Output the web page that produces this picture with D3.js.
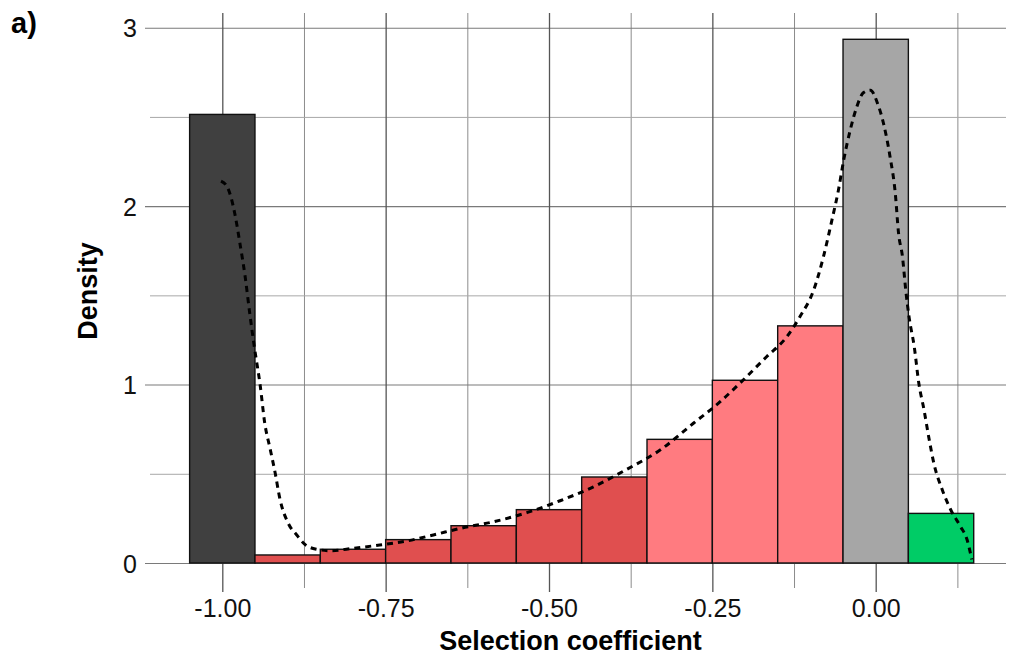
<!DOCTYPE html>
<html>
<head>
<meta charset="utf-8">
<script src="https://cdn.jsdelivr.net/npm/d3@7"></script>
<style>
  html, body { margin: 0; padding: 0; background: #fff; }
  svg { display: block; font-family: "Liberation Sans", Arial, Helvetica, sans-serif; }
</style>
</head>
<body>
<svg id="chart" width="1009" height="659"></svg>
<script>
// ---- data ----
const binCenters = [-1.0, -0.9, -0.8, -0.7, -0.6, -0.5, -0.4, -0.3, -0.2, -0.1, 0.0, 0.1];
const binDensity = [2.514, 0.045, 0.077, 0.131, 0.209, 0.299, 0.482, 0.693, 1.024, 1.329, 2.935, 0.278];
const binGroup   = ["lethal", "strong", "strong", "strong", "strong", "strong", "strong",
                    "mild", "mild", "mild", "neutral", "beneficial"];
const binWidth = 0.1;

const densX = [-1.002, -0.992, -0.986, -0.981, -0.973, -0.965, -0.958, -0.951, -0.942, -0.935, -0.927,
               -0.919, -0.912, -0.899, -0.886, -0.874, -0.856, -0.835, -0.800, -0.759, -0.718,
               -0.677, -0.636, -0.585, -0.534, -0.483, -0.432, -0.381, -0.330, -0.279, -0.238,
               -0.208, -0.167, -0.136, -0.116, -0.095, -0.080, -0.067, -0.057, -0.049, -0.039,
               -0.029, -0.019, -0.008, 0.002, 0.012, 0.022, 0.030, 0.035, 0.041, 0.046,
               0.051, 0.059, 0.066, 0.074, 0.082, 0.089, 0.102, 0.115, 0.130, 0.140, 0.147];
const densY = [2.140, 2.105, 2.040, 1.960, 1.791, 1.604, 1.399, 1.212, 0.995, 0.783, 0.643,
               0.503, 0.362, 0.222, 0.157, 0.106, 0.077, 0.069, 0.082, 0.101, 0.123,
               0.157, 0.194, 0.231, 0.282, 0.349, 0.427, 0.525, 0.633, 0.783, 0.904,
               1.007, 1.156, 1.268, 1.380, 1.529, 1.716, 1.922, 2.090, 2.258, 2.426,
               2.556, 2.635, 2.650, 2.584, 2.463, 2.276, 2.071, 1.847, 1.716, 1.529,
               1.380, 1.212, 1.007, 0.857, 0.689, 0.559, 0.409, 0.297, 0.203, 0.129, 0.020];

const xMajorTicks = [-1.0, -0.75, -0.5, -0.25, 0.0];
const xTickLabels = ["-1.00", "-0.75", "-0.50", "-0.25", "0.00"];
const xMinorTicks = [-0.875, -0.625, -0.375, -0.125, 0.125];
const yMajorTicks = [0, 1, 2, 3];
const yMinorTicks = [0.5, 1.5, 2.5];

const groupColor = {
  lethal: "#404040",
  strong: "#E04F4F",
  mild: "#FF7B80",
  neutral: "#A6A6A6",
  beneficial: "#00CC66"
};

// ---- layout ----
const svg = d3.select("#chart");
const panelLeft = 145, panelRight = 1006, panelTop = 13, zeroY = 563;

const x = d3.scaleLinear().domain([-1.0, 0.0]).range([222.3, 875.7]);
const y = d3.scaleLinear().domain([0, 3]).range([zeroY, 27.7]);

// minor vertical grid
svg.append("g")
  .attr("transform", `translate(0,588)`)
  .call(d3.axisBottom(x).tickValues(xMinorTicks).tickSize(-(588 - panelTop)).tickFormat(""))
  .call(g => g.select(".domain").remove())
  .call(g => g.selectAll(".tick line").attr("stroke", "#8c8c8c").attr("stroke-width", 1));

// minor horizontal grid
svg.append("g")
  .attr("transform", `translate(150,0)`)
  .call(d3.axisLeft(y).tickValues(yMinorTicks).tickSize(-(panelRight - 150)).tickFormat(""))
  .call(g => g.select(".domain").remove())
  .call(g => g.selectAll(".tick line").attr("stroke", "#a8a8a8").attr("stroke-width", 1));

// major horizontal grid + y labels
svg.append("g")
  .attr("transform", `translate(${panelLeft},0)`)
  .call(d3.axisLeft(y).tickValues(yMajorTicks).tickSize(-(panelRight - panelLeft)).tickPadding(8).tickFormat(d3.format("d")))
  .call(g => g.select(".domain").remove())
  .call(g => g.selectAll(".tick line").attr("stroke", "#7a7a7a").attr("stroke-width", 1.1))
  .call(g => g.selectAll(".tick text")
    .attr("fill", "#111").attr("font-size", 25).attr("dy", "0.36em")
    .attr("font-family", "'Liberation Sans', Arial, sans-serif"));

// major vertical grid + x labels
svg.append("g")
  .attr("transform", `translate(0,592)`)
  .call(d3.axisBottom(x).tickValues(xMajorTicks).tickSize(-(592 - panelTop)).tickPadding(7)
    .tickFormat((d, i) => xTickLabels[i]))
  .call(g => g.select(".domain").remove())
  .call(g => g.selectAll(".tick line").attr("stroke", "#555").attr("stroke-width", 1.3))
  .call(g => g.selectAll(".tick text")
    .attr("fill", "#111").attr("font-size", 25)
    .attr("font-family", "'Liberation Sans', Arial, sans-serif"));

// bars
svg.append("g")
  .selectAll("rect")
  .data(binCenters.map((c, i) => ({ c, d: binDensity[i], g: binGroup[i] })))
  .join("rect")
  .attr("x", d => x(d.c - binWidth / 2))
  .attr("width", d => x(d.c + binWidth / 2) - x(d.c - binWidth / 2))
  .attr("y", d => y(d.d))
  .attr("height", d => y(0) - y(d.d))
  .attr("fill", d => groupColor[d.g])
  .attr("stroke", "#111")
  .attr("stroke-width", 1.4);

// density curve
const line = d3.line()
  .x((d, i) => x(densX[i]))
  .y(d => y(d))
  .curve(d3.curveMonotoneX);

svg.append("path")
  .datum(densY)
  .attr("d", line)
  .attr("fill", "none")
  .attr("stroke", "#000")
  .attr("stroke-width", 3)
  .attr("stroke-dasharray", "6,5");

// axis titles
svg.append("text")
  .attr("x", 570.5).attr("y", 650)
  .attr("text-anchor", "middle")
  .attr("font-size", 27).attr("font-weight", "bold").attr("fill", "#000")
  .text("Selection coefficient");

svg.append("text")
  .attr("transform", "translate(97,291) rotate(-90)")
  .attr("text-anchor", "middle")
  .attr("font-size", 27).attr("font-weight", "bold").attr("fill", "#000")
  .text("Density");

// panel tag
svg.append("text")
  .attr("x", 11).attr("y", 33)
  .attr("font-size", 29).attr("font-weight", "bold").attr("fill", "#000")
  .text("a)");
</script>
</body>
</html>
